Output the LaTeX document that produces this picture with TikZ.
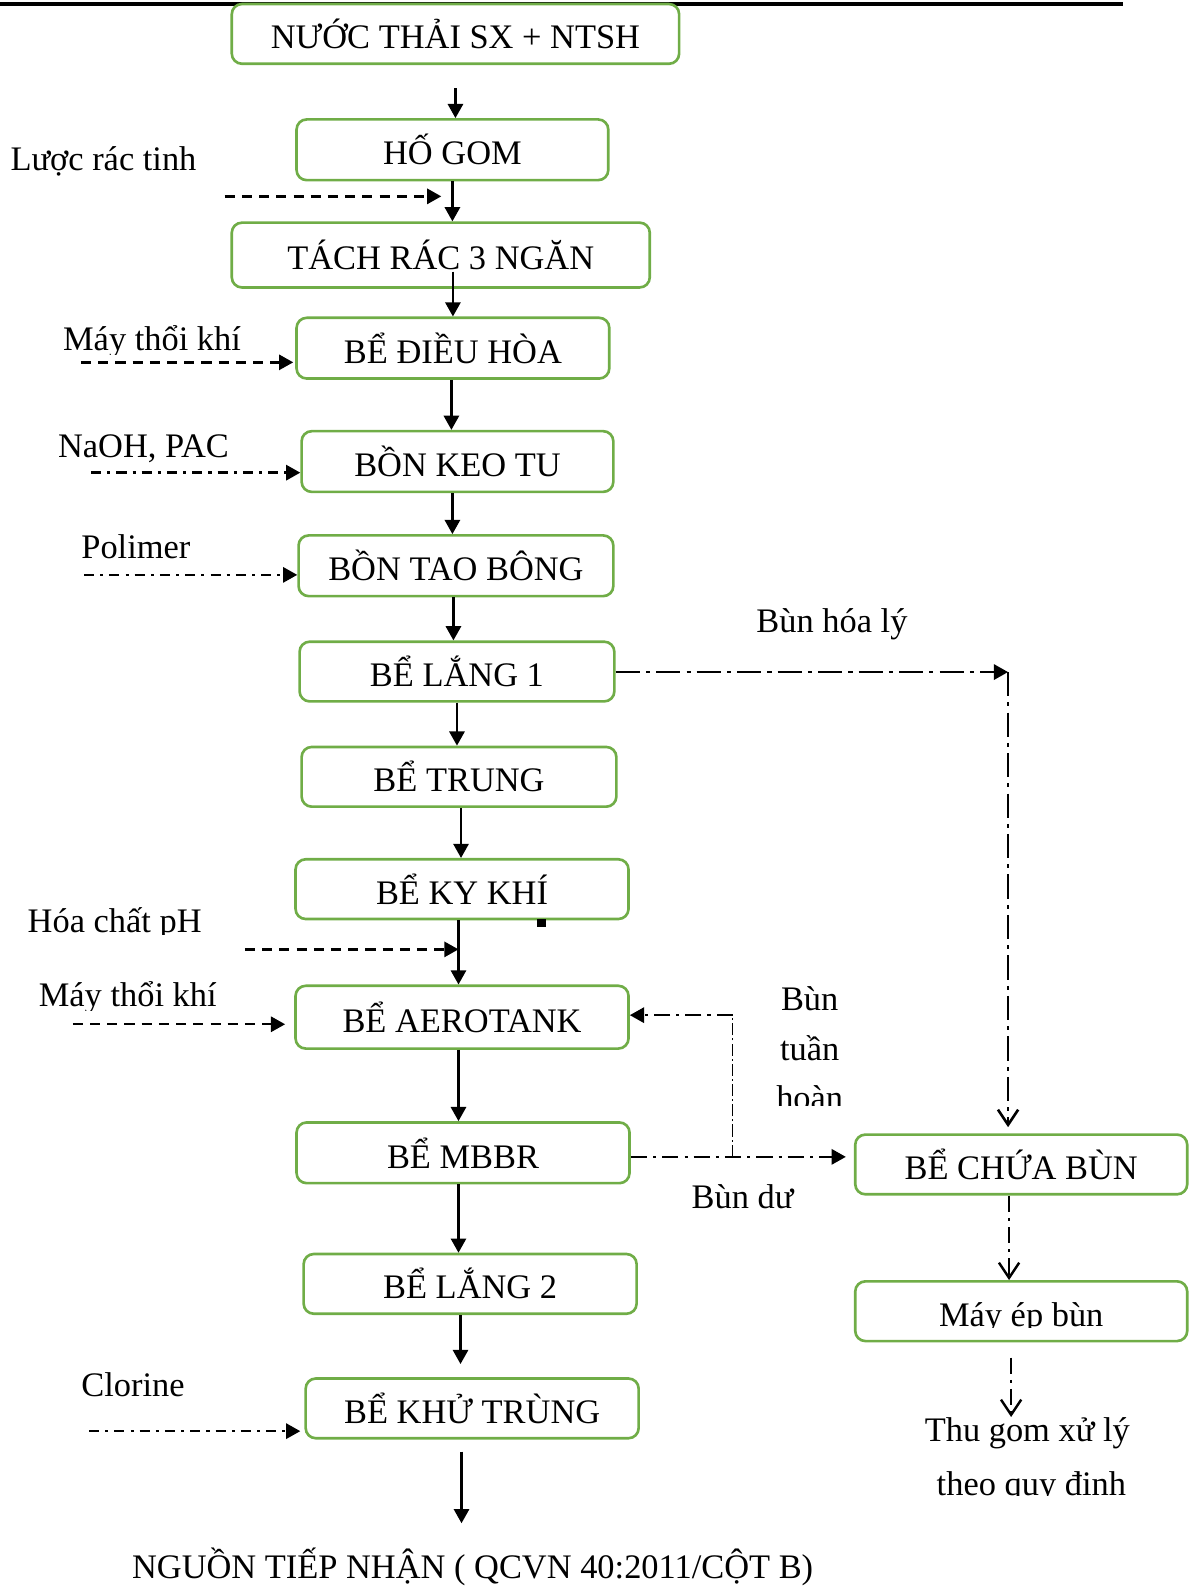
\documentclass[tikz,border=0pt]{standalone}
\usepackage{fontspec}
\setmainfont{Liberation Serif}
\usetikzlibrary{arrows.meta}
\definecolor{boxgreen}{RGB}{112,173,71}
\tikzset{
  txt/.style={font=\fontsize{17}{20}\selectfont},
  stage/.style={txt, draw=boxgreen, line width=1.3pt, rounded corners=5pt,
    fill=white, inner sep=0pt, align=center},
  lbl/.style={txt, inner sep=0pt, anchor=base west},
  clbl/.style={txt, inner sep=0pt, anchor=base},
  tip/.style={-{Triangle[length=7pt,width=7.5pt]}},
  barb/.style={-{Straight Barb[length=7.5pt,width=10pt]}},
  flow/.style={line width=1.2pt, tip},
  feed/.style={line width=1.2pt, dash pattern=on 5pt off 3.5pt, tip},
  dose/.style={line width=1.2pt, dash pattern=on 5pt off 3pt on 1.5pt off 3pt, tip},
  sludge/.style={line width=1.3pt, dash pattern=on 12pt off 3pt on 2pt off 3pt},
  mud/.style={line width=1.2pt, dash pattern=on 8pt off 3pt on 1.5pt off 3pt},
  fine/.style={line width=0.5pt, dash pattern=on 6pt off 1.5pt on 1pt off 1.5pt},
}
\begin{document}
\begin{tikzpicture}[x=0.5pt,y=-0.5pt]
\useasboundingbox (0,0) rectangle (1181,1568);

% page rule at the top
\draw[line width=1.6pt] (0,4) -- (1110,4);

% treatment stages
\node[stage, minimum width=221pt, minimum height=29.5pt] (n1) at (450,33.5) {NƯỚC THẢI SX + NTSH};
\node[stage, minimum width=154pt, minimum height=30pt] (n2) at (447,148) {HỐ GOM};
\node[stage, minimum width=206.5pt, minimum height=32pt] (n3) at (435.5,252) {TÁCH RÁC 3 NGĂN};
\node[stage, minimum width=154.5pt, minimum height=30pt] (n4) at (447.5,344) {BỂ ĐIỀU HÒA};
\node[stage, minimum width=154pt, minimum height=30pt] (n5) at (452,456) {BỒN KEO TU};
\node[stage, minimum width=155.5pt, minimum height=30pt] (n6) at (450.5,559) {BỒN TAO BÔNG};
\node[stage, minimum width=155.5pt, minimum height=29.5pt] (n7) at (451.5,663.5) {BỂ LẮNG 1};
\node[stage, minimum width=155.5pt, minimum height=29.5pt] (n8) at (453.5,767.5) {BỂ TRUNG};
\node[stage, minimum width=164.5pt, minimum height=29.5pt] (n9) at (456.5,878.5) {BỂ KY KHÍ};
\node[stage, minimum width=164.5pt, minimum height=31pt] (n10) at (456.5,1005) {BỂ AEROTANK};
\node[stage, minimum width=164.5pt, minimum height=30pt] (n11) at (457.5,1139) {BỂ MBBR};
\node[stage, minimum width=164.5pt, minimum height=29.5pt] (n12) at (464.5,1268.5) {BỂ LẮNG 2};
\node[stage, minimum width=164.5pt, minimum height=29.5pt] (n13) at (466.5,1391.5) {BỂ KHỬ TRÙNG};
\node[stage, minimum width=164pt, minimum height=29.5pt] (n14) at (1009,1150.5) {BỂ CHỨA BÙN};
\node[stage, minimum width=164pt, minimum height=29.5pt] (n15) at (1009,1295.5) {};
\begin{scope}
  \clip (845,1266) rectangle (1173,1312);
  \node[clbl] (t15) at (1009,1311) {Máy ép bùn};
\end{scope}

% stray mark beside the anaerobic tank
\fill (531,908) rectangle (539,916);

% outlet
\node[clbl] (out) at (467,1560) {NGUỒN TIẾP NHẬN ( QCVN 40:2011/CỘT B)};

% main flow
\draw[flow, shorten <=11.5pt] (n1.south) -- (n1.south |- n2.north);
\draw[flow] (n2.south) -- (n2.south |- n3.north);
\draw[flow, shorten <=-8.5pt] (n4.north |- n3.south) -- (n4.north);
\draw[flow] ([xshift=-0.75pt]n4.south) -- ([xshift=-0.75pt]n4.south |- n5.north);
\draw[flow] ([xshift=-2.5pt]n5.south) -- ([xshift=-2.5pt]n5.south |- n6.north);
\draw[flow] ([xshift=-1.25pt]n6.south) -- ([xshift=-1.25pt]n6.south |- n7.north);
\draw[flow] (n7.south) -- (n7.south |- n8.north);
\draw[flow] ([xshift=1pt]n8.south) -- ([xshift=1pt]n8.south |- n9.north);
\draw[flow] ([xshift=-1.75pt]n9.south) -- ([xshift=-1.75pt]n9.south |- n10.north);
\draw[flow] ([xshift=-1.75pt]n10.south) -- ([xshift=-1.75pt]n10.south |- n11.north);
\draw[flow] ([xshift=-2.25pt]n11.south) -- ([xshift=-2.25pt]n11.south |- n12.north);
\draw[flow, shorten >=6.5pt] ([xshift=-4.75pt]n12.south) -- ([xshift=-4.75pt]n12.south |- n13.north);
\coordinate (outtip) at (456,1505);
\draw[flow, shorten <=6pt] (n13.south -| outtip) -- (outtip);

% dosing and air inputs
\node[lbl] (l1) at (10,168) {Lược rác tinh};
\coordinate (a1) at (222,194);
\draw[feed, shorten >=5.5pt] (a1) -- (n2.south |- a1);

\begin{scope}
  \clip (40,300) rectangle (260,350);
  \node[lbl] (l2) at (62,346) {Máy thổi khí};
\end{scope}
\coordinate (a2) at (80,358);
\draw[feed, shorten >=1pt] (a2) -- (n4.west |- a2);

\node[lbl] (l3) at (57,452) {NaOH, PAC};
\coordinate (a3) at (90,467);
\draw[dose] (a3) -- (n5.west |- a3);

\node[lbl] (l4) at (80,552) {Polimer};
\coordinate (a4) at (83,568);
\draw[dose] (a4) -- (n6.west |- a4);

\begin{scope}
  \clip (10,880) rectangle (230,923);
  \node[lbl] (l5) at (27,921) {Hóa chất pH};
\end{scope}
\coordinate (a5) at (242,938);
\draw[feed] (a5) -- ([xshift=-1.75pt]n9.south |- a5);

\begin{scope}
  \clip (20,950) rectangle (240,998);
  \node[lbl] (l6) at (38,994) {Máy thổi khí};
\end{scope}
\coordinate (a6) at (72,1012);
\draw[feed, shorten >=4.5pt] (a6) -- (n10.west |- a6);

\node[lbl] (l7) at (80,1380) {Clorine};
\coordinate (a7) at (88,1414);
\draw[dose, shorten >=2pt] (a7) -- (n13.west |- a7);

% sludge lines
\node[lbl] (l8) at (747,625) {Bùn hóa lý};
\coordinate (k1) at (996,664);
\draw[sludge, tip] (n7.east |- k1) -- (k1);
\draw[sludge, barb, shorten >=3pt] (k1) -- (k1 |- n14.north);

\node[clbl] (l9) at (800,998) {Bùn};
\node[clbl] (l10) at (800,1048) {tuần};
\begin{scope}
  \clip (740,1060) rectangle (860,1092);
  \node[clbl] (l11) at (800,1096) {hoàn};
\end{scope}
\node[lbl] (l12) at (683,1194) {Bùn dư};

\coordinate (k2) at (724,1143);
\coordinate (k3) at (724,1003);
\draw[mud, tip, shorten >=4pt] (n11.east |- k2) -- (n14.west |- k2);
\draw[fine] (k2) -- (k3);
\draw[mud, tip] (k3) -- (n10.east |- k3);

\draw[mud, barb] ([xshift=-6pt]n14.south) -- ([xshift=-6pt]n14.south |- n15.north);

\node[clbl] (l13) at (1015,1424) {Thu gom xử lý};
\begin{scope}
  \clip (900,1440) rectangle (1140,1478);
  \node[clbl] (l14) at (1019,1478) {theo quy định};
\end{scope}
\coordinate (k4) at (999,1400);
\draw[mud, barb, shorten <=7.5pt] (n15.south -| k4) -- (k4);
\end{tikzpicture}
\end{document}
